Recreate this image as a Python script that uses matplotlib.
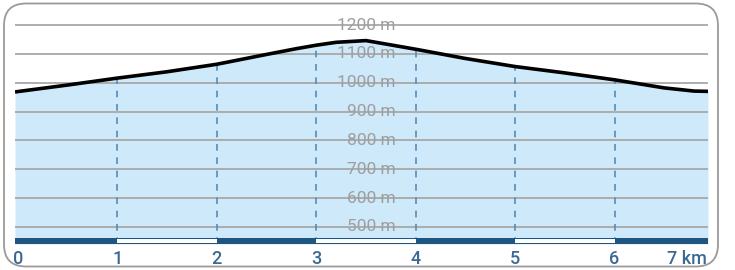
import numpy as np
import matplotlib
matplotlib.use("Agg")
import matplotlib.pyplot as plt
from matplotlib.patches import FancyBboxPatch, Rectangle
import matplotlib.transforms as mtransforms

# profile
km = [-0.03, 0.5, 1.0, 1.5, 2.0, 2.5, 2.8, 3.0, 3.2, 3.5, 3.7, 4.0, 4.5, 5.0, 5.5, 6.0, 6.5, 6.8, 6.94]
elev = [968, 992, 1016, 1038, 1064, 1098, 1118, 1130, 1140, 1146, 1134, 1116, 1084, 1056, 1034, 1010, 982, 971, 970]

grid_levels = [500, 600, 700, 800, 900, 1000, 1100, 1200]
grid_labels = ["500 m", "600 m", "700 m", "800 m", "900 m", "1000 m", "1100 m", "1200 m"]
km_ticks = [0, 1, 2, 3, 4, 5, 6]
km_labels = ["0", "1", "2", "3", "4", "5", "6", "7 km"]

W, H = 735, 270
fig = plt.figure(figsize=(W / 100, H / 100), dpi=100)
plt.rcParams['font.family'] = ['Roboto', 'DejaVu Sans']

# rounded frame
frame = FancyBboxPatch((4 / W, 3.5 / H), 714 / W, 263 / H,
                       boxstyle="round,pad=0,rounding_size=0.03",
                       transform=fig.transFigure, facecolor="white",
                       edgecolor="#9a9a9a", lw=1.3, mutation_aspect=W / H,
                       zorder=-5)
fig.patches.append(frame)

ax = fig.add_axes([15 / W, 26 / H, 693 / W, 234 / H])
ax.set_zorder(2)
ax.set_facecolor("none")
ybot, ytop = 441, 1252
xmin, xmax = km[0], km[-1]
ax.set_xlim(xmin, xmax)
ax.set_ylim(ybot, ytop)
ax.axis("off")

ax.fill_between(km, ybot, elev, color="#cde9fa", lw=0, zorder=1)

for g in grid_levels:
    ax.axhline(g, color="#a8a8a8", lw=1.3, zorder=2)

# dashed km markers up to the profile
for k in km_ticks[1:]:
    top = np.interp(k, km, elev)
    ax.plot([k, k], [ybot, top], color="#5a8bb5", lw=1.2,
            dashes=(4, 4), zorder=3)

ax.plot(km, elev, color="black", lw=2.6, solid_capstyle="butt", zorder=5)

# elevation labels in the middle
for g, lab in zip(grid_levels, grid_labels):
    ax.text(3.8, g, lab, ha="right", va="center", color="#9e9e9e",
            fontsize=12.5, zorder=6)

# distance scale bar
trans = mtransforms.blended_transform_factory(ax.transData, ax.transAxes)
bar_h = 6 / 234
dark = "#1f5581"
ax.add_patch(Rectangle((xmin, 0), xmax - xmin, bar_h, transform=trans,
                       facecolor=dark, edgecolor="none", zorder=7, clip_on=False))
for k in [1, 3, 5]:
    ax.add_patch(Rectangle((k, 1.2 / 234), 1, bar_h - 2.4 / 234, transform=trans,
                           facecolor="white", edgecolor="none", zorder=8, clip_on=False))

# km labels below
for k, lab in zip(km_ticks, km_labels):
    ax.text(k, -0.062, lab, transform=trans, ha="center", va="center",
            color="#3b6993", fontsize=13, fontweight="medium")
ax.text(xmax - 0.01, -0.062, km_labels[-1], transform=trans,
        ha="right", va="center", color="#3b6993", fontsize=13, fontweight="medium")

fig.savefig("out.png", dpi=100)
